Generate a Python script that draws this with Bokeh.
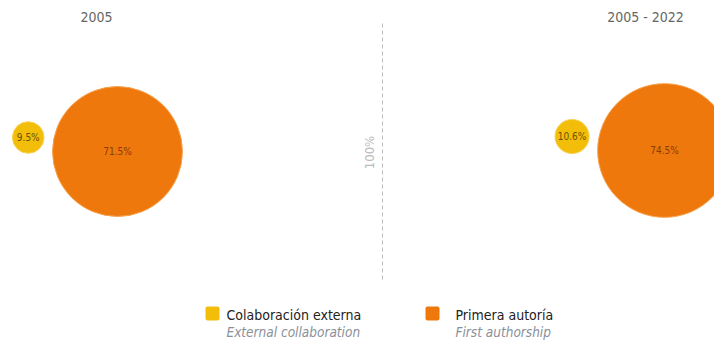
from bokeh.plotting import figure
from bokeh.models import Range1d, ColumnDataSource, Label
from bokeh.embed import file_html
from bokeh.resources import INLINE
from bokeh.core.properties import value

# data
periods = ["2005", "2005 - 2022"]
external_collab = [9.5, 10.6]
first_author = [71.5, 74.5]
series_es = ["Colaboración externa", "Primera autoría"]
series_en = ["External collaboration", "First authorship"]
reference_label = "100%"

YELLOW = "#F2BE0A"
ORANGE = "#EE780C"
FONT = "DejaVu Sans Condensed"

p = figure(width=714, height=342, output_backend="svg", toolbar_location=None,
           x_range=Range1d(0, 714), y_range=Range1d(342, 0),
           min_border=0, min_border_left=0, min_border_right=0,
           min_border_top=0, min_border_bottom=0)
p.axis.visible = False
p.grid.visible = False
p.outline_line_color = None
p.background_fill_color = "white"
p.border_fill_color = "white"

def rad(v):
    return 3.27 * v ** 0.7

big_cx = [117, 664]
big_cy = [151, 150]
title_x = [96, 645]
gap = 8.5

bx, by, br, sx, sy, sr, bl, sl = [], [], [], [], [], [], [], []
for i in range(2):
    rb = rad(first_author[i])
    rs = rad(external_collab[i])
    bx.append(big_cx[i]); by.append(big_cy[i]); br.append(rb)
    sx.append(big_cx[i] - rb - rs - gap); sy.append(big_cy[i] - 14); sr.append(rs)
    bl.append(f"{first_author[i]}%"); sl.append(f"{external_collab[i]}%")

src_b = ColumnDataSource(dict(x=bx, y=by, r=br, t=bl))
src_s = ColumnDataSource(dict(x=sx, y=sy, r=sr, t=sl))
p.circle(x="x", y="y", radius="r", source=src_b, fill_color=ORANGE,
         line_color="#F6A24E", line_width=1)
p.circle(x="x", y="y", radius="r", source=src_s, fill_color=YELLOW,
         line_color="#F7D35A", line_width=1)
p.text(x="x", y="y", text="t", source=src_b, text_align="center",
       text_baseline="middle", text_font=value(FONT), text_font_size="10px",
       text_color="#8A3C06")
p.text(x="x", y="y", text="t", source=src_s, text_align="center",
       text_baseline="middle", text_font=value(FONT), text_font_size="10px",
       text_color="#6B5200")

# titles
p.text(x=title_x, y=[16, 16], text=periods, text_align="center",
       text_baseline="middle", text_font=value(FONT), text_font_size="14px",
       text_color="#666666")

# divider
p.segment(x0=[382], y0=[23], x1=[382], y1=[281], line_color="#BBBBBB",
          line_dash="4 3", line_width=1)
p.add_layout(Label(x=369, y=152, text=reference_label, angle=1.5708,
                   text_align="center", text_baseline="middle",
                   text_font=FONT, text_font_size="13px", text_color="#BBBBBB"))

# legend
leg_sq_x = [212, 432]
leg_tx = [226, 455]
p.rect(x=leg_sq_x, y=[313, 313], width=14, height=14, fill_color=[YELLOW, ORANGE],
       line_color=None, border_radius=2)
p.text(x=leg_tx, y=[314, 314], text=series_es, text_baseline="middle",
       text_font=value(FONT), text_font_size="14px", text_color="#222222")
p.text(x=leg_tx, y=[331, 331], text=series_en, text_baseline="middle",
       text_font=value(FONT), text_font_size="13.5px", text_font_style="italic",
       text_color="#8A909A")

open("out.html", "w").write(file_html(p, INLINE))
